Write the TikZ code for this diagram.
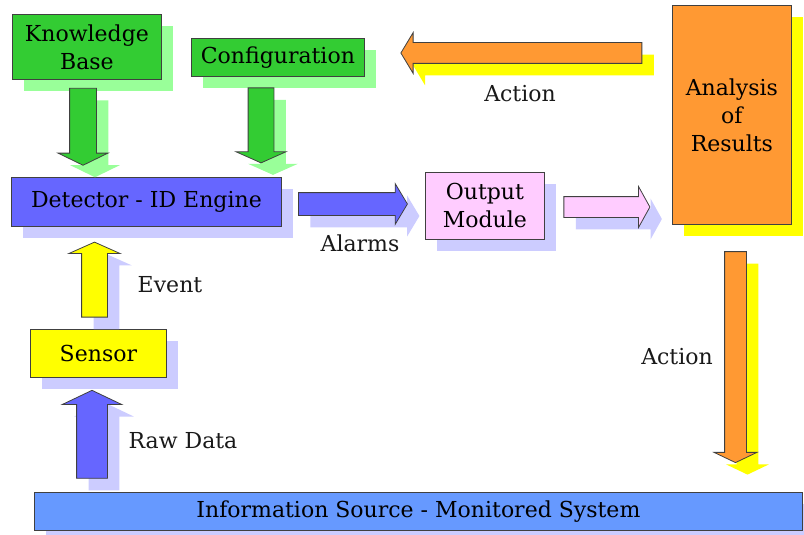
\documentclass[tikz,border=0pt]{standalone}
\usepackage{fontspec}
\setmainfont{DejaVu Serif}
\usepackage{xcolor}
\usepackage{tikz}
\usetikzlibrary{shapes.arrows}
\usetikzlibrary{shadows}
\usetikzlibrary{positioning}
\definecolor{kgreen}{RGB}{51,204,51}
\definecolor{lgreen}{RGB}{153,255,153}
\definecolor{dblue}{RGB}{102,102,255}
\definecolor{lblue}{RGB}{102,153,255}
\definecolor{lav}{RGB}{204,204,255}
\definecolor{pinkbox}{RGB}{255,204,255}
\definecolor{orng}{RGB}{255,153,51}
\definecolor{yel}{RGB}{255,255,0}
\tikzset{
    box/.style = {rectangle, draw=black!75, line width=0.8pt, align=center, anchor=north west, inner sep=0pt},
    shgreen/.style = {drop shadow={shadow xshift=12pt, shadow yshift=-12pt, fill=lgreen, opacity=1}},
    shlav/.style = {drop shadow={shadow xshift=12pt, shadow yshift=-12pt, fill=lav, opacity=1}},
    shyel/.style = {drop shadow={shadow xshift=12pt, shadow yshift=-12pt, fill=yel, opacity=1}},
    barrow/.style = {single arrow, draw=black!75, line width=0.8pt, single arrow head indent=0pt, minimum width=0pt},
    fat/.style args = {#1/#2/#3}{inner sep=#1, single arrow head extend=#2, single arrow tip angle=#3},
    lbl/.style = {text=black!90},
}

\begin{document}
\begin{tikzpicture}[
	x=1pt, y=-1pt,
	font=\fontsize{22}{28}\selectfont
]
\fill[white] (0,0) rectangle (804,535);
\useasboundingbox (0,0) rectangle (804,535);
% boxes
\node[box, fill=kgreen, shgreen, minimum width=149pt, minimum height=65pt] (kb) at (12,14) {Knowledge\\Base};
\node[box, fill=kgreen, shgreen, minimum width=173pt, minimum height=38pt] (cfg) at (191,38) {Configuration};
\node[box, fill=dblue, shlav, minimum width=270pt, minimum height=49pt] (det) at (11,177) {Detector - ID Engine};
\node[box, fill=pinkbox, shlav, minimum width=119pt, minimum height=67pt] (out) at (425,172) {Output\\Module};
\node[box, fill=orng, shyel, minimum width=119pt, minimum height=219pt] (ana) at (672,5) {Analysis\\of\\Results};
\node[box, fill=yel, shlav, minimum width=136pt, minimum height=48pt] (sen) at (30,329) {Sensor};
\node[box, fill=lblue, shlav, minimum width=768pt, minimum height=38pt] (info) at (34,492) {Information Source - Monitored System};
%
\coordinate (kbT) at (83,85);    \coordinate (kbH) at (83,162);
\coordinate (cfgT) at (261,85);  \coordinate (cfgH) at (261,160);
\coordinate (alT) at (295,204);  \coordinate (alH) at (404,204);
\coordinate (outT) at (561,207); \coordinate (outH) at (647,207);
\coordinate (acT) at (645,53);   \coordinate (acH) at (404,53);
\coordinate (adT) at (735.5,249); \coordinate (adH) at (735.5,460);
\coordinate (evT) at (94.5,320); \coordinate (evH) at (94.5,245);
\coordinate (rwT) at (92,482);   \coordinate (rwH) at (92,394);
% arrows (inner sep = half shaft)
\path (kbT) -- (kbH) node[midway, barrow, fill=kgreen, shgreen, fat=13pt/11.5pt/128, shape border rotate=270, minimum height=77pt] (kbarrow) {};
\path (cfgT) -- (cfgH) node[midway, barrow, fill=kgreen, shgreen, fat=12.5pt/12pt/132, shape border rotate=270, minimum height=75pt] (cfgarrow) {};
\path (alT) -- (alH) node[midway, barrow, fill=dblue, shlav, fat=11pt/9pt/118, minimum height=109pt] (alarrow) {};
\path (outT) -- (outH) node[midway, barrow, fill=pinkbox, shlav, fat=10pt/10pt/122, minimum height=86pt] (outarrow) {};
\path (acT) -- (acH) node[midway, barrow, fill=orng, shyel, fat=10pt/10pt/118, shape border rotate=180, minimum height=241pt] (acarrow) {};
\path (adT) -- (adH) node[midway, barrow, fill=orng, shyel, fat=10.5pt/10.5pt/129, shape border rotate=270, minimum height=211pt] (adarrow) {};
\path (evT) -- (evH) node[midway, barrow, fill=yel, shlav, fat=12.5pt/12.5pt/132, shape border rotate=90, minimum height=75pt] (evarrow) {};
\path (rwT) -- (rwH) node[midway, barrow, fill=dblue, shlav, fat=15pt/14.5pt/129, shape border rotate=90, minimum height=88pt] (rwarrow) {};
% labels
\node[lbl] (actl) at (520,94) {Action};
\node[lbl] (alarml) at (360,243) {Alarms};
\node[lbl] (eventl) at (170,285) {Event};
\node[lbl] (rawl) at (183,441) {Raw Data};
\node[lbl] (actr) at (677,357) {Action};
\end{tikzpicture}
\end{document}
